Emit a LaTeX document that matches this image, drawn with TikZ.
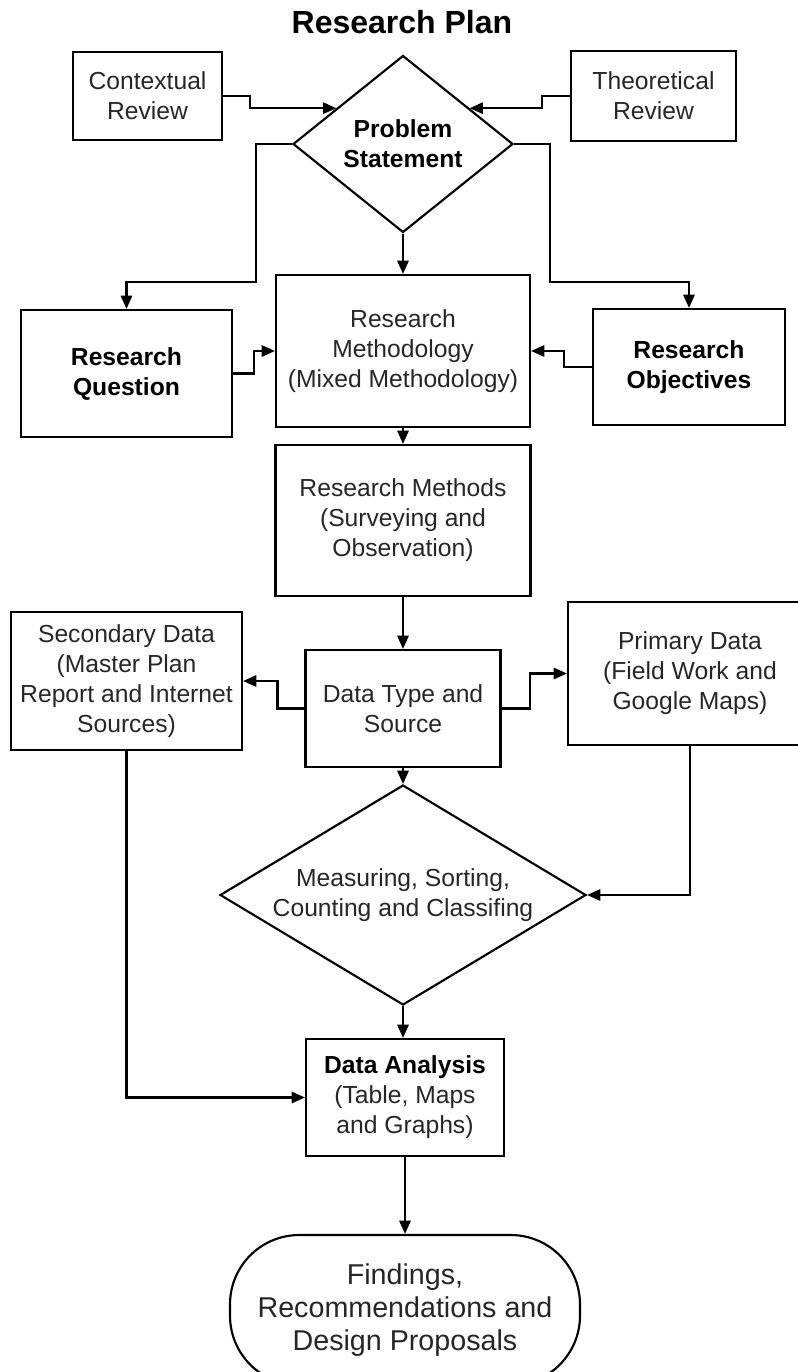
\documentclass[tikz,border=0pt]{standalone}
\usepackage{fontspec}
\setmainfont{Liberation Sans}
\usetikzlibrary{shapes.geometric,arrows.meta,calc}

\begin{document}
\begin{tikzpicture}[x=0.75pt,y=-0.75pt,
  txt/.style={font=\fontsize{18.5pt}{22.5pt}\selectfont, align=center, text=black!85},
  bold/.style={font=\bfseries\fontsize{18.5pt}{22.5pt}\selectfont, text=black},
  box/.style={txt, draw, line width=1.6pt, inner sep=0pt},
  choice/.style={txt, draw, shape=diamond, line width=1.6pt, inner sep=0pt},
  arr/.style={line width=1.6pt, -{Triangle[length=10pt,width=8.5pt]}}]
\useasboundingbox (0,0) rectangle (798,1372);
\clip (0,0) rectangle (798,1372);

\node[anchor=base, font=\bfseries\fontsize{24pt}{28pt}\selectfont] (title) at (402,33) {Research Plan};

% top row
\node[box, minimum width=111.75pt, minimum height=66pt] (ctxrev) at (147.5,96) {Contextual\\Review};
\node[box, minimum width=123.75pt, minimum height=67.5pt] (theorev) at (653.5,96) {Theoretical\\Review};
\node[choice, bold, aspect=1.24, minimum width=165pt, minimum height=132.75pt] (probstmt) at (403,144) {Problem\\Statement};

% second row
\node[box, bold, minimum width=158.25pt, minimum height=95.25pt] (resq) at (126.5,373.5) {Research\\Question};
\node[box, minimum width=190.5pt, minimum height=114pt] (resmeth) at (403,351) {Research\\Methodology\\(Mixed Methodology)};
\node[box, bold, minimum width=144pt, minimum height=87pt] (resobj) at (689,367) {Research\\Objectives};

\node[box, minimum width=191.25pt, minimum height=113.25pt] (methods) at (403,520.5) {Research Methods\\(Surveying and\\Observation)};

% data row
\node[box, minimum width=173.25pt, minimum height=103.5pt] (secdata) at (126.5,681) {Secondary Data\\(Master Plan\\Report and Internet\\Sources)};
\node[box, minimum width=146.25pt, minimum height=87.75pt] (dtype) at (403,708.5) {Data Type and\\Source};
\node[box, minimum width=183pt, minimum height=107.25pt] (primdata) at (690,673.5) {Primary Data\\(Field Work and\\Google Maps)};

\node[choice, aspect=1.66, minimum width=274.5pt, minimum height=165pt] (measure) at (403,895) {Measuring, Sorting,\\Counting and Classifing};

\node[box, minimum width=148.5pt, minimum height=87.75pt] (analysis) at (405,1097.5) {\textbf{\color{black}Data Analysis}\\(Table, Maps\\and Graphs)};

\node[box, rounded corners=52pt, minimum width=262.5pt, minimum height=112.5pt,
  font=\fontsize{21.5pt}{25pt}\selectfont] (findings) at (405,1310) {Findings,\\Recommendations and\\Design Proposals};

% connectors
\draw[arr] (ctxrev.east) -- ++(27,0) |- ($(probstmt.west)!0.4!(probstmt.north)$);
\draw[arr] (theorev.west) -- ++(-28,0) |- ($(probstmt.east)!0.4!(probstmt.north)$);
\draw[arr] (probstmt.west) -- ++(-36,0) -- ++(0,138) -| (resq.north);
\draw[arr] (probstmt.east) -- ++(36,0) -- ++(0,138) -| (resobj.north);
\draw[arr] (probstmt.south) -- (resmeth.north);
\draw[arr] (resq.east) -- ++(21,0) |- (resmeth.west);
\draw[arr] (resobj.west) -- ++(-28,0) |- (resmeth.east);
\draw[arr] (resmeth.south) -- (methods.north);
\draw[arr] (methods.south) -- (dtype.north);
\draw[arr] (dtype.west) -- ++(-27,0) |- (secdata.east);
\draw[arr] (dtype.east) -- ++(28,0) |- (primdata.west);
\draw[arr] (dtype.south) -- (measure.north);
\draw[arr] (primdata.south) |- (measure.east);
\draw[arr] (secdata.south) |- (analysis.west);
\draw[arr] (measure.south) -- (measure.south |- analysis.north);
\draw[arr] (analysis.south) -- (findings.north);
\end{tikzpicture}
\end{document}
